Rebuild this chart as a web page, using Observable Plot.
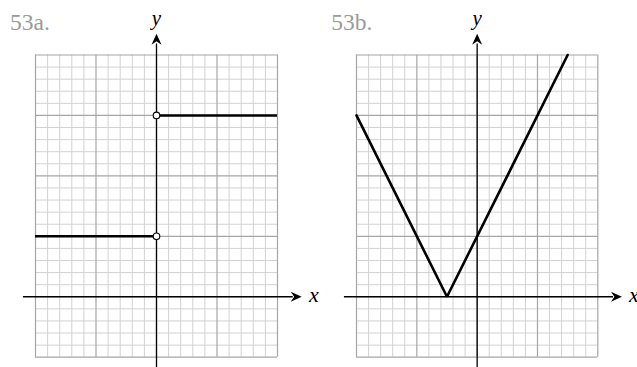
<!DOCTYPE html>
<html>
<head>
<meta charset="utf-8">
<script src="https://cdn.jsdelivr.net/npm/d3@7"></script>
<script src="https://cdn.jsdelivr.net/npm/@observablehq/plot@0.6"></script>
<style>
  html, body { margin: 0; padding: 0; background: #fff; }
  #wrap { position: relative; width: 637px; height: 367px; overflow: hidden; }
  #wrap svg { position: absolute; left: 0; top: 0; overflow: visible; background: transparent; }
</style>
</head>
<body>
<div id="wrap"></div>
<script>
// ---- data ----
const panelLabels = ["53a.", "53b."];
const xDomain = [-10, 10];
const yDomain = [-5, 20];
const minorStep = 1;
const majorStep = 5;

// 53a: step function with open endpoints at x = 0
const stepSegments = [
  {x1: -10, x2: 0, y: 5},
  {x1: 0, x2: 10, y: 15}
];
const openPoints = [
  {x: 0, y: 5},
  {x: 0, y: 15}
];

// 53b: V-shaped graph y = |2x + 5|
const vX = [-10, -2.5, 7.5];
const vY = [15, 0, 20];

// ---- drawing ----
const stealth = {
  draw(ctx, size) {
    const k = Math.sqrt(size / Math.PI) / 5;
    ctx.moveTo(0, 0);
    ctx.lineTo(-11 * k, -5 * k);
    ctx.lineTo(-7.5 * k, 0);
    ctx.lineTo(-11 * k, 5 * k);
    ctx.closePath();
  }
};

const minorTicks = d3.range(xDomain[0], xDomain[1] + minorStep, minorStep).filter(v => v % majorStep !== 0);
const majorTicks = d3.range(xDomain[0], xDomain[1] + majorStep, majorStep);
const minorTicksY = d3.range(yDomain[0], yDomain[1] + minorStep, minorStep).filter(v => v % majorStep !== 0);
const majorTicksY = d3.range(yDomain[0], yDomain[1] + majorStep, majorStep);

function panel(label, marginLeft, marginRight, curveMarks) {
  return Plot.plot({
    width: 637,
    height: 367,
    marginLeft,
    marginRight,
    marginTop: 54.5,
    marginBottom: 10.3,
    x: {domain: xDomain, axis: null},
    y: {domain: yDomain, axis: null},
    style: {background: "transparent"},
    marks: [
      Plot.ruleX(minorTicks, {stroke: "#d2d2d2", strokeWidth: 1}),
      Plot.ruleY(minorTicksY, {stroke: "#d2d2d2", strokeWidth: 1}),
      Plot.ruleX(majorTicks, {stroke: "#a6a6a6", strokeWidth: 1.2}),
      Plot.ruleY(majorTicksY, {stroke: "#a6a6a6", strokeWidth: 1.2}),
      // axes
      Plot.ruleY([0], {x1: -11, x2: 11.3, stroke: "#000", strokeWidth: 1.3}),
      Plot.ruleX([0], {y1: -5.9, y2: 20.9, stroke: "#000", strokeWidth: 1.3}),
      Plot.dot([{x: 12, y: 0}], {x: "x", y: "y", symbol: stealth, r: 5, fill: "#000", stroke: "none"}),
      Plot.dot([{x: 0, y: 21.75}], {x: "x", y: "y", symbol: stealth, r: 5, fill: "#000", stroke: "none", rotate: -90}),
      ...curveMarks,
      // labels
      Plot.text([label], {x: () => -12.1, y: () => 22.1, text: d => d, textAnchor: "start", lineAnchor: "bottom",
        fill: "#9a9a9a", fontSize: 23.5, fontFamily: "'Liberation Serif', serif"}),
      Plot.text(["y"], {x: () => 0, y: () => 22.5, text: d => d, textAnchor: "middle", lineAnchor: "bottom",
        fill: "#000", fontSize: 21, fontStyle: "italic", fontFamily: "'Liberation Serif', serif"}),
      Plot.text(["x"], {x: () => 13.0, y: () => -0.45, text: d => d, textAnchor: "middle", lineAnchor: "bottom",
        fill: "#000", fontSize: 22, fontStyle: "italic", fontFamily: "'Liberation Serif', serif"})
    ]
  });
}

const wrap = document.getElementById("wrap");

const a = panel(panelLabels[0], 35, 637 - 277, [
  Plot.ruleY(stepSegments, {x1: "x1", x2: "x2", y: "y", stroke: "#000", strokeWidth: 2.6}),
  Plot.dot(openPoints, {x: "x", y: "y", r: 3.3, fill: "#fff", stroke: "#000", strokeWidth: 1.1})
]);

const vData = vX.map((x, i) => ({x, y: vY[i]}));
const b = panel(panelLabels[1], 356, 637 - 597.3, [
  Plot.line(vData, {x: "x", y: "y", stroke: "#000", strokeWidth: 2.6, strokeLinejoin: "miter"})
]);

wrap.appendChild(a);
wrap.appendChild(b);
</script>
</body>
</html>
